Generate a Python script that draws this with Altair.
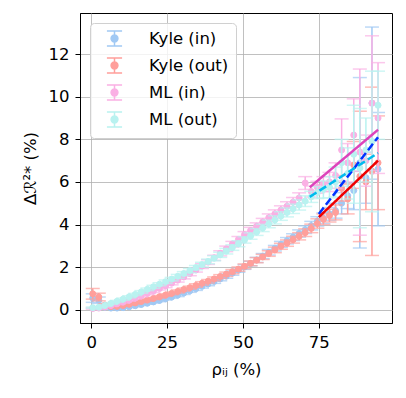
import altair as alt
import pandas as pd

x_vals = [0.5, 2.5, 4.5, 6.5, 8.5, 10.5, 12.5, 14.5, 16.5, 18.5, 20.5, 22.5, 24.5, 26.5, 28.5, 30.5,
          32.5, 34.5, 36.5, 38.5, 40.5, 42.5, 44.5, 46.5, 48.5, 50.5, 52.5, 54.5, 56.5, 58.5, 60.5, 62.5,
          64.5, 66.5, 68.5, 70.5, 72.5, 74.5, 76.5, 78.5, 80.5, 82.5, 84.5, 86.5, 88.5, 90.5, 92.5, 94.5]

kyle_in = [0.55, 0.45, 0.12, 0.08, 0.08, 0.1, 0.14, 0.19, 0.25, 0.31, 0.37, 0.44, 0.52, 0.6, 0.69, 0.79,
           0.89, 0.99, 1.1, 1.21, 1.33, 1.45, 1.58, 1.72, 1.86, 2.01, 2.17, 2.34, 2.52, 2.7, 2.89, 3.07,
           3.24, 3.41, 3.58, 3.76, 3.95, 4.15, 4.3, 4.5, 4.65, 5.0, 5.35, 5.6, 6.9, 6.2, 9.7, 6.6]
kyle_in_err = [0.2, 0.15, 0.05, 0.04, 0.04, 0.04, 0.04, 0.05, 0.05, 0.05, 0.05, 0.06, 0.06, 0.06, 0.07, 0.07,
               0.07, 0.08, 0.08, 0.08, 0.09, 0.09, 0.1, 0.1, 0.1, 0.11, 0.11, 0.12, 0.12, 0.13, 0.13, 0.14,
               0.15, 0.16, 0.17, 0.18, 0.2, 0.22, 0.25, 0.3, 0.35, 0.5, 0.6, 0.9, 4.0, 1.2, 3.57, 2.66]

kyle_out = [0.75, 0.6, 0.22, 0.15, 0.16, 0.2, 0.26, 0.32, 0.39, 0.46, 0.53, 0.61, 0.69, 0.77, 0.86, 0.95,
            1.04, 1.14, 1.24, 1.34, 1.45, 1.56, 1.67, 1.79, 1.91, 2.04, 2.18, 2.33, 2.48, 2.64, 2.81, 2.98,
            3.13, 3.29, 3.45, 3.62, 3.82, 4.05, 4.25, 4.42, 4.57, 5.7, 5.2, 6.8, 6.26, 6.0, 6.5, 6.9]
kyle_out_err = [0.25, 0.18, 0.06, 0.04, 0.04, 0.04, 0.04, 0.05, 0.05, 0.05, 0.05, 0.06, 0.06, 0.06, 0.07, 0.07,
                0.07, 0.08, 0.08, 0.08, 0.09, 0.09, 0.1, 0.1, 0.1, 0.11, 0.11, 0.12, 0.12, 0.13, 0.13, 0.14,
                0.15, 0.16, 0.17, 0.18, 0.2, 0.22, 0.25, 0.3, 0.35, 0.6, 0.7, 1.1, 3.06, 1.3, 3.95, 2.2]

ml_in = [0.06, 0.08, 0.13, 0.2, 0.28, 0.36, 0.45, 0.55, 0.66, 0.77, 0.88, 1.0, 1.12, 1.25, 1.39, 1.54,
         1.7, 1.87, 2.05, 2.24, 2.44, 2.65, 2.86, 3.08, 3.3, 3.52, 3.72, 3.92, 4.12, 4.32, 4.5, 4.68,
         4.86, 5.05, 5.25, 5.95, 5.55, 5.75, 5.9, 6.0, 6.3, 7.5, 6.9, 8.2, 7.4, 7.0, 9.7, 9.0]
ml_in_err = [0.03, 0.03, 0.03, 0.04, 0.04, 0.05, 0.05, 0.05, 0.06, 0.06, 0.07, 0.07, 0.08, 0.08, 0.09, 0.09,
             0.1, 0.1, 0.11, 0.11, 0.12, 0.12, 0.13, 0.13, 0.14, 0.15, 0.15, 0.16, 0.17, 0.18, 0.19, 0.2,
             0.21, 0.22, 0.24, 0.3, 0.26, 0.28, 0.35, 0.45, 0.6, 1.46, 0.9, 1.7, 3.9, 1.2, 3.16, 2.6]

ml_out = [0.1, 0.12, 0.2, 0.3, 0.4, 0.5, 0.61, 0.72, 0.84, 0.96, 1.08, 1.2, 1.32, 1.44, 1.57, 1.7,
          1.84, 1.98, 2.12, 2.27, 2.42, 2.58, 2.75, 2.92, 3.1, 3.28, 3.46, 3.65, 3.84, 4.03, 4.22, 4.4,
          4.57, 4.74, 4.92, 5.1, 5.3, 5.5, 5.65, 5.75, 6.0, 6.9, 6.4, 7.3, 6.65, 7.5, 7.9, 9.6]
ml_out_err = [0.03, 0.03, 0.03, 0.04, 0.04, 0.05, 0.05, 0.05, 0.06, 0.06, 0.07, 0.07, 0.08, 0.08, 0.09, 0.09,
              0.1, 0.1, 0.11, 0.11, 0.12, 0.12, 0.13, 0.13, 0.14, 0.15, 0.15, 0.16, 0.17, 0.18, 0.19, 0.2,
              0.21, 0.22, 0.24, 0.25, 0.26, 0.28, 0.4, 0.5, 0.7, 1.1, 1.2, 2.3, 2.8, 1.5, 3.3, 1.6]

series_names = ["Kyle (in)", "Kyle (out)", "ML (in)", "ML (out)"]
series_colors = ["#a1c9f4", "#ff9f9b", "#fab0e4", "#b9f2f0"]

# fitted trend lines (high-correlation region)
fit_kyle_x = [75, 94.5]
fit_kyle_in = [4.5, 8.1]
fit_kyle_out = [4.35, 7.0]
fit_ml_x = [72, 94.5]
fit_ml_in = [5.75, 8.45]
fit_ml_out = [5.3, 7.36]
fit_colors = ["#0033ff", "#ee0000", "#dd44bb", "#00bbee"]
fit_dashed = [True, False, False, True]

rows = []
for name, ys, es in zip(series_names, [kyle_in, kyle_out, ml_in, ml_out],
                        [kyle_in_err, kyle_out_err, ml_in_err, ml_out_err]):
    for xv, yv, ev in zip(x_vals, ys, es):
        rows.append({"x": xv, "y": yv, "lo": yv - ev, "hi": yv + ev, "series": name})
df = pd.DataFrame(rows)

fit_rows = []
for name, xs_, ys in zip(series_names, [fit_kyle_x, fit_kyle_x, fit_ml_x, fit_ml_x],
                         [fit_kyle_in, fit_kyle_out, fit_ml_in, fit_ml_out]):
    for xv, yv in zip(xs_, ys):
        fit_rows.append({"x": xv, "y": yv, "fit": name})
fdf = pd.DataFrame(fit_rows)

FONT = "DejaVu Sans"
FS = 16.5

xscale = alt.Scale(domain=[-3.7, 99.1], nice=False, zero=False)
yscale = alt.Scale(domain=[-0.62, 13.93], nice=False, zero=False)
xaxis = alt.Axis(values=[0, 25, 50, 75], title="ρᵢⱼ (%)", format="d")
yaxis = alt.Axis(values=[0, 2, 4, 6, 8, 10, 12], title="Δℛ²* (%)", format="d")
cscale = alt.Scale(domain=series_names, range=series_colors)

glyph = ("M-1,-1H1M0,-1V1M-1,1H1"
         "M0.45,0A0.45,0.45,0,1,1,-0.45,0A0.45,0.45,0,1,1,0.45,0Z")
legend = alt.Legend(title=None, orient="none", legendX=10, legendY=10,
                    symbolType=glyph, symbolSize=230, symbolStrokeWidth=1.5,
                    labelFont=FONT, labelFontSize=FS, labelColor="black",
                    padding=7, symbolOffset=9, labelOffset=26, rowPadding=4,
                    fillColor="rgba(255,255,255,0.8)", strokeColor="#d0d0d0",
                    cornerRadius=4)

X = alt.X("x:Q", scale=xscale, axis=xaxis)
Y = alt.Y("y:Q", scale=yscale, axis=yaxis)

layers = []
for name, col in zip(series_names, series_colors):
    base = alt.Chart(df).transform_filter(alt.datum.series == name)
    bars = base.mark_rule(strokeWidth=1.5).encode(
        x=X, y=alt.Y("lo:Q", scale=yscale, axis=yaxis), y2="hi:Q", color=alt.value(col))
    cap_lo = base.mark_tick(orient="horizontal", size=14, thickness=1.5).encode(
        x=X, y=alt.Y("lo:Q", scale=yscale, axis=yaxis), color=alt.value(col))
    cap_hi = base.mark_tick(orient="horizontal", size=14, thickness=1.5).encode(
        x=X, y=alt.Y("hi:Q", scale=yscale, axis=yaxis), color=alt.value(col))
    pts = base.mark_point(filled=True, size=36, strokeWidth=1, opacity=1).encode(
        x=X, y=Y,
        fill=alt.Fill("series:N", scale=cscale, legend=legend),
        stroke=alt.Stroke("series:N", scale=cscale, legend=legend))
    layers += [bars, cap_lo, cap_hi, pts]

for name, col, dashed in zip(series_names, fit_colors, fit_dashed):
    mk = alt.Chart(fdf).transform_filter(alt.datum.fit == name).mark_line(
        strokeWidth=2.5, strokeDash=[8, 3.5] if dashed else [1, 0], clip=True)
    layers.append(mk.encode(x=X, y=Y, color=alt.value(col), order=alt.Order("x:Q")))

chart = alt.layer(*layers).properties(
    width=312, height=310,
    autosize=alt.AutoSizeParams(type="none"),
    padding={"left": 72, "top": 5, "right": 6, "bottom": 67},
).configure_view(
    stroke="black", strokeWidth=1
).configure_axis(
    labelFont=FONT, titleFont=FONT, labelFontSize=FS, titleFontSize=FS,
    labelColor="black", titleColor="black", titleFontWeight="normal",
    domainColor="black", domainWidth=1, tickColor="black", tickSize=5, tickWidth=1,
    gridColor="#b0b0b0", gridWidth=0.8, grid=True
).configure_axisX(
    labelPadding=6, titlePadding=11
).configure_axisY(
    labelPadding=6, titlePadding=10
)

chart.save("out.html", embed_options={"renderer": "svg", "actions": False})
